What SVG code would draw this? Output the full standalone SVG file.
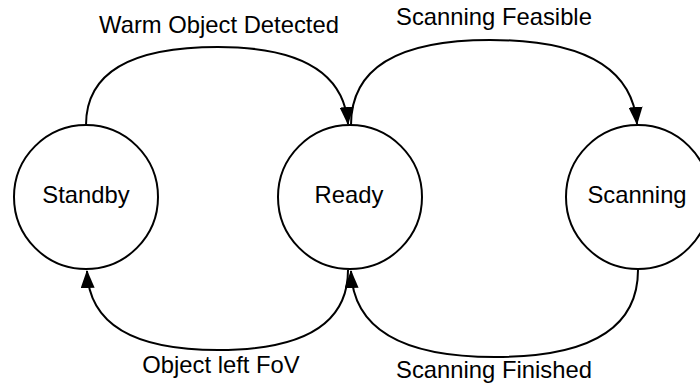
<svg xmlns="http://www.w3.org/2000/svg" width="700" height="387" viewBox="0 0 700 387">
<defs>
<style>
.node{fill:#fff;stroke:#000;stroke-width:2}
.lbl{font-family:"Liberation Sans",Arial,sans-serif;font-size:23.8px;fill:#000;text-anchor:middle}
.edge{fill:none;stroke:#000;stroke-width:2;marker-end:url(#arr)}
</style>
<marker id="arr" markerUnits="userSpaceOnUse" viewBox="0 0 18 14" refX="17" refY="7" markerWidth="18" markerHeight="14" orient="auto">
<path d="M0,0 L18,7 L0,14 Z" fill="#000"/>
</marker>
</defs>
<rect width="700" height="387" fill="#fff"/>
<g id="edges">
<path class="edge" d="M86,125 Q86,47 218,47 Q342,47 348,124"/>
<path class="edge" d="M351,125 Q351,40 490,40 Q630,40 637,124"/>
<path class="edge" d="M348,270 Q348,350 218,350 Q90,350 87,271"/>
<path class="edge" d="M638,270 Q638,357 495,357 Q354,357 351,271"/>
</g>
<g id="edge-labels">
<text class="lbl" x="219" y="33">Warm Object Detected</text>
<text class="lbl" x="494" y="25">Scanning Feasible</text>
<text class="lbl" x="221" y="373">Object left FoV</text>
<text class="lbl" x="494" y="378">Scanning Finished</text>
</g>
<g id="standby"><circle class="node" cx="86" cy="197" r="72"/><text class="lbl" x="86" y="203">Standby</text></g>
<g id="ready"><circle class="node" cx="350" cy="197" r="72"/><text class="lbl" x="349" y="203">Ready</text></g>
<g id="scanning"><circle class="node" cx="638" cy="197" r="72"/><text class="lbl" x="637" y="203">Scanning</text></g>
</svg>
